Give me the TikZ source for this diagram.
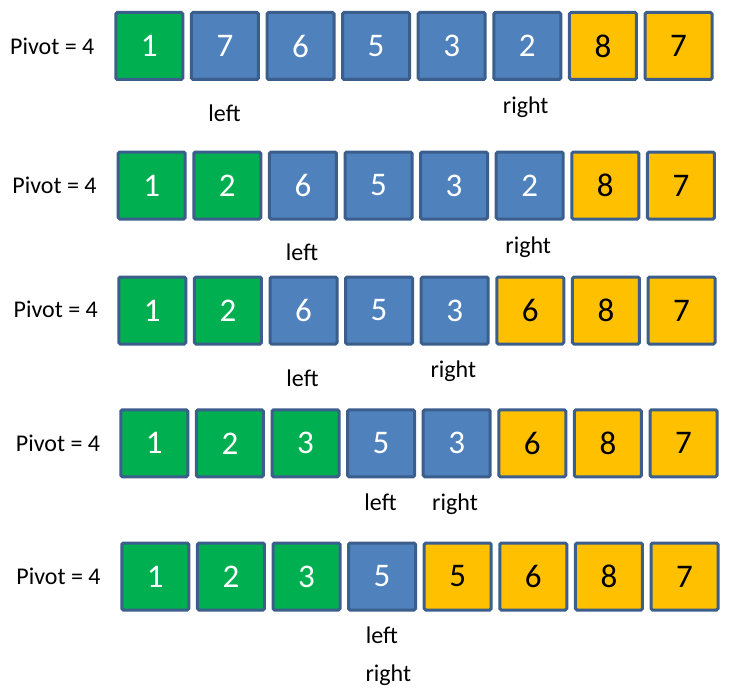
\documentclass[tikz,border=0pt]{standalone}
\usepackage{fontspec}
\setmainfont{Carlito}
\definecolor{cgreen}{HTML}{00B050}
\definecolor{cblue}{HTML}{4F81BD}
\definecolor{cyellow}{HTML}{FFC000}
\definecolor{cborder}{HTML}{3B5E8C}
\tikzset{
  cell/.style={draw=cborder, line width=3pt, minimum size=67pt, inner sep=0pt,
    rounded corners=1.5pt, font=\fontsize{33}{36}\selectfont},
  pivotlbl/.style={anchor=base, inner sep=0pt, font=\fontsize{24}{28}\selectfont},
  ptrlbl/.style={anchor=base, inner sep=0pt, font=\fontsize{24}{28}\selectfont},
}
\newcommand\cellrow[4]{%
  \foreach \f/\t/\d [count=\i from 0] in {#4} {
    \node[cell, fill=\f, text=\t] (r#1c\i) at ({#2+75.6*\i},#3) {\d};
  }%
}
\begin{document}
\begin{tikzpicture}[x=1pt,y=-1pt]
\useasboundingbox (0,0) rectangle (743,698);
% Row 1
\node[pivotlbl] (p1) at (52.3,54.3) {Pivot = 4};
\cellrow{1}{149.3}{46}{cgreen/white/1,cblue/white/7,cblue/white/6,cblue/white/5,cblue/white/3,cblue/white/2,cyellow/black/8,cyellow/black/7}
\node[ptrlbl] (l1) at (224.5,121.7) {left};
\node[ptrlbl] (rt1) at (525.7,113.3) {right};
% Row 2
\node[pivotlbl] (p2) at (54.5,193.3) {Pivot = 4};
\cellrow{2}{151.7}{185.5}{cgreen/white/1,cgreen/white/2,cblue/white/6,cblue/white/5,cblue/white/3,cblue/white/2,cyellow/black/8,cyellow/black/7}
\node[ptrlbl] (l2) at (302,260.7) {left};
\node[ptrlbl] (rt2) at (528.2,253.3) {right};
% Row 3
\node[pivotlbl] (p3) at (55.8,317.7) {Pivot = 4};
\cellrow{3}{152.3}{310.5}{cgreen/white/1,cgreen/white/2,cblue/white/6,cblue/white/5,cblue/white/3,cyellow/black/6,cyellow/black/8,cyellow/black/7}
\node[ptrlbl] (l3) at (302.5,386) {left};
\node[ptrlbl] (rt3) at (453.3,377.3) {right};
% Row 4
\node[pivotlbl] (p4) at (58,451) {Pivot = 4};
\cellrow{4}{154.3}{443.3}{cgreen/white/1,cgreen/white/2,cgreen/white/3,cblue/white/5,cblue/white/3,cyellow/black/6,cyellow/black/8,cyellow/black/7}
\node[ptrlbl] (l4) at (380.5,510) {left};
\node[ptrlbl] (rt4) at (455,510) {right};
% Row 5
\node[pivotlbl] (p5) at (58.5,584.3) {Pivot = 4};
\cellrow{5}{155.3}{576.5}{cgreen/white/1,cgreen/white/2,cgreen/white/3,cblue/white/5,cyellow/black/5,cyellow/black/6,cyellow/black/8,cyellow/black/7}
\node[ptrlbl] (l5) at (381.8,643.3) {left};
\node[ptrlbl] (rt5) at (388.3,681.7) {right};
\end{tikzpicture}
\end{document}
